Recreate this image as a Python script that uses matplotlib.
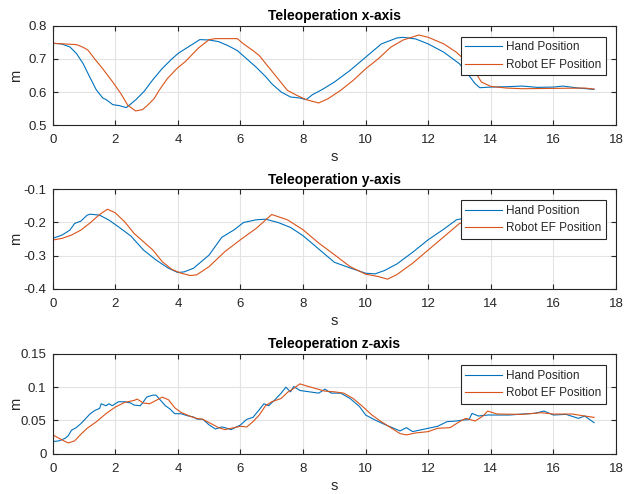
import matplotlib
matplotlib.use("Agg")
import matplotlib.pyplot as plt

plt.rcParams['font.family'] = ['Liberation Sans', 'DejaVu Sans']

# ---------------- data ----------------
x_hand_t = [0, 0.28, 0.55, 0.76, 0.97, 1.18, 1.39, 1.6, 1.71, 1.92, 2.13, 2.35, 2.66, 2.92,
            3.19, 3.5, 3.82, 4.03, 4.35, 4.7, 5.0, 5.3, 5.6, 5.9, 6.2, 6.5, 6.8, 7.0, 7.3,
            7.6, 7.9, 8.1, 8.3, 8.6, 9.0, 9.5, 10.0, 10.5, 11.0, 11.2, 11.6, 12.0, 12.5,
            13.0, 13.3, 13.5, 13.65, 14.0, 14.5, 15.0, 15.5, 16.0, 16.3, 16.8, 17.3]
x_hand_v = [0.747, 0.745, 0.736, 0.716, 0.686, 0.646, 0.607, 0.582, 0.577, 0.562, 0.559, 0.553,
            0.577, 0.602, 0.636, 0.671, 0.701, 0.718, 0.737, 0.758, 0.757, 0.752, 0.740, 0.725,
            0.700, 0.675, 0.647, 0.625, 0.600, 0.585, 0.582, 0.577, 0.592, 0.607, 0.630, 0.665,
            0.705, 0.745, 0.763, 0.765, 0.760, 0.745, 0.720, 0.685, 0.650, 0.625, 0.613, 0.615,
            0.616, 0.618, 0.614, 0.615, 0.618, 0.612, 0.608]
x_robot_t = [0, 0.76, 0.97, 1.13, 1.34, 1.6, 1.92, 2.18, 2.4, 2.65, 2.87, 3.03, 3.24, 3.4,
             3.66, 3.98, 4.24, 4.66, 5.0, 5.2, 5.9, 6.1, 6.4, 6.6, 6.9, 7.2, 7.5, 7.8, 8.1,
             8.5, 8.8, 9.2, 9.6, 10.0, 10.4, 10.8, 11.2, 11.7, 12.0, 12.5, 12.9, 13.3, 13.55,
             13.7, 14.0, 14.5, 15.0, 16.0, 17.0, 17.3]
x_robot_v = [0.747, 0.743, 0.735, 0.726, 0.700, 0.670, 0.630, 0.595, 0.560, 0.543, 0.547,
             0.560, 0.580, 0.605, 0.640, 0.672, 0.692, 0.733, 0.758, 0.761, 0.761, 0.745,
             0.725, 0.710, 0.675, 0.640, 0.605, 0.590, 0.577, 0.567, 0.580, 0.605, 0.635,
             0.670, 0.700, 0.735, 0.757, 0.772, 0.765, 0.745, 0.720, 0.685, 0.653, 0.630,
             0.617, 0.612, 0.610, 0.611, 0.612, 0.609]

y_hand_t = [0, 0.3, 0.55, 0.7, 0.9, 1.1, 1.2, 1.5, 1.8, 2.1, 2.5, 2.9, 3.3, 3.7, 4.0, 4.2,
            4.5, 5.0, 5.4, 5.8, 6.1, 6.5, 6.8, 7.2, 7.6, 8.0, 8.5, 9.0, 9.5, 10.0, 10.3,
            10.6, 11.0, 11.5, 12.0, 12.5, 12.9, 13.0, 13.5, 14.5, 15.5, 16.5, 17.3]
y_hand_v = [-0.248, -0.238, -0.223, -0.203, -0.196, -0.178, -0.175, -0.178, -0.193, -0.213,
            -0.241, -0.283, -0.313, -0.338, -0.351, -0.349, -0.338, -0.298, -0.245, -0.222,
            -0.200, -0.192, -0.190, -0.200, -0.215, -0.240, -0.280, -0.320, -0.337, -0.353,
            -0.355, -0.345, -0.325, -0.290, -0.252, -0.220, -0.192, -0.190, -0.185, -0.182,
            -0.183, -0.182, -0.183]
y_robot_t = [0, 0.3, 0.6, 0.9, 1.2, 1.5, 1.75, 2.0, 2.3, 2.6, 2.9, 3.2, 3.5, 3.8, 4.1, 4.4,
             4.6, 5.0, 5.5, 6.0, 6.5, 7.0, 7.5, 8.0, 8.5, 9.0, 9.5, 10.0, 10.4, 10.7, 11.0,
             11.5, 12.0, 12.5, 13.0, 13.5, 14.5, 15.5, 16.5, 17.3]
y_robot_v = [-0.253, -0.248, -0.238, -0.223, -0.201, -0.176, -0.160, -0.171, -0.198, -0.233,
             -0.258, -0.283, -0.318, -0.341, -0.353, -0.360, -0.358, -0.333, -0.288, -0.252,
             -0.218, -0.176, -0.192, -0.222, -0.262, -0.297, -0.333, -0.356, -0.363, -0.371,
             -0.357, -0.323, -0.283, -0.243, -0.203, -0.190, -0.185, -0.184, -0.185, -0.184]

z_hand_t = [0, 0.2, 0.4, 0.5, 0.6, 0.75, 0.9, 1.0, 1.2, 1.35, 1.5, 1.55, 1.7, 1.8, 1.9, 2.0,
            2.1, 2.3, 2.5, 2.6, 2.8, 2.9, 3.0, 3.2, 3.3, 3.45, 3.6, 3.75, 3.9, 4.1, 4.3, 4.5,
            4.6, 4.8, 5.0, 5.2, 5.4, 5.5, 5.7, 6.0, 6.2, 6.4, 6.6, 6.75, 6.9, 7.1, 7.3, 7.45,
            7.6, 7.7, 7.9, 8.2, 8.5, 8.7, 8.9, 9.2, 9.5, 9.8, 10.0, 10.3, 10.6, 10.9, 11.1,
            11.3, 11.5, 11.8, 12.0, 12.3, 12.6, 12.9, 13.1, 13.3, 13.4, 13.6, 13.9, 14.2,
            14.6, 15.0, 15.4, 15.7, 16.0, 16.4, 16.8, 17.0, 17.3]
z_hand_v = [0.018, 0.019, 0.023, 0.027, 0.035, 0.039, 0.045, 0.050, 0.060, 0.065, 0.068,
            0.075, 0.072, 0.075, 0.072, 0.075, 0.078, 0.078, 0.076, 0.073, 0.072, 0.078,
            0.085, 0.088, 0.088, 0.080, 0.072, 0.067, 0.060, 0.060, 0.057, 0.055, 0.052,
            0.0515, 0.043, 0.037, 0.040, 0.039, 0.036, 0.043, 0.0515, 0.0545, 0.066, 0.075,
            0.072, 0.081, 0.091, 0.100, 0.093, 0.101, 0.095, 0.093, 0.091, 0.097, 0.091,
            0.091, 0.083, 0.071, 0.058, 0.0505, 0.044, 0.038, 0.034, 0.039, 0.033, 0.036,
            0.038, 0.041, 0.048, 0.049, 0.0505, 0.051, 0.0605, 0.0565, 0.058, 0.058, 0.058,
            0.0595, 0.0605, 0.064, 0.058, 0.059, 0.053, 0.0565, 0.0465]
z_robot_t = [0, 0.2, 0.4, 0.5, 0.7, 0.9, 1.1, 1.4, 1.7, 2.0, 2.3, 2.6, 2.7, 2.9, 3.1, 3.3,
             3.5, 3.7, 3.9, 4.1, 4.4, 4.6, 4.8, 5.0, 5.3, 5.5, 5.8, 6.0, 6.2, 6.4, 6.6, 6.8,
             7.0, 7.3, 7.5, 7.7, 7.9, 8.1, 8.4, 8.7, 9.0, 9.3, 9.6, 9.9, 10.2, 10.5, 10.8,
             11.1, 11.3, 11.6, 12.0, 12.3, 12.7, 13.0, 13.2, 13.5, 13.75, 13.9, 14.2, 15.0,
             15.6, 16.0, 16.6, 17.0, 17.3]
z_robot_v = [0.028, 0.023, 0.018, 0.016, 0.019, 0.029, 0.038, 0.048, 0.060, 0.070, 0.077,
             0.080, 0.082, 0.076, 0.075, 0.080, 0.085, 0.081, 0.069, 0.062, 0.056, 0.053,
             0.0515, 0.0465, 0.039, 0.036, 0.039, 0.041, 0.040, 0.048, 0.058, 0.072, 0.078,
             0.083, 0.092, 0.098, 0.105, 0.102, 0.098, 0.094, 0.093, 0.091, 0.083, 0.071,
             0.058, 0.048, 0.039, 0.030, 0.028, 0.031, 0.033, 0.038, 0.039, 0.048, 0.053,
             0.049, 0.0565, 0.064, 0.0595, 0.059, 0.0615, 0.0595, 0.0595, 0.0565, 0.0545]

titles = ["Teleoperation x-axis", "Teleoperation y-axis", "Teleoperation z-axis"]
legend_labels = ["Hand Position", "Robot EF Position"]
ylims = [(0.5, 0.8), (-0.4, -0.1), (0, 0.15)]
yticks = [[0.5, 0.6, 0.7, 0.8], [-0.4, -0.3, -0.2, -0.1], [0, 0.05, 0.1, 0.15]]
ytick_labels = [["0.5", "0.6", "0.7", "0.8"], ["-0.4", "-0.3", "-0.2", "-0.1"],
                ["0", "0.05", "0.1", "0.15"]]
xticks = [0, 2, 4, 6, 8, 10, 12, 14, 16, 18]

series = [(x_hand_t, x_hand_v, x_robot_t, x_robot_v),
          (y_hand_t, y_hand_v, y_robot_t, y_robot_v),
          (z_hand_t, z_hand_v, z_robot_t, z_robot_v)]

BLUE = "#0072BD"
ORANGE = "#D95319"
DARK = "#262626"

W, H = 625, 494
fig = plt.figure(figsize=(W / 100, H / 100), dpi=100)
left_px, right_px = 52.7, 616.0
tops_px = [25.7, 189.3, 354.0]
height_px = 99.5

for i in range(3):
    top = tops_px[i]
    ax = fig.add_axes([left_px / W, 1 - (top + height_px) / H,
                       (right_px - left_px) / W, height_px / H])
    ht, hv, rt, rv = series[i]
    ax.plot(ht, hv, color=BLUE, lw=0.8, label=legend_labels[0])
    ax.plot(rt, rv, color=ORANGE, lw=0.8, label=legend_labels[1])
    ax.set_xlim(0, 18)
    ax.set_ylim(*ylims[i])
    ax.set_xticks(xticks)
    ax.set_xticklabels([str(v) for v in xticks])
    ax.set_yticks(yticks[i])
    ax.set_yticklabels(ytick_labels[i])
    ax.grid(True, color="#e3e3e3", lw=0.8)
    ax.set_axisbelow(True)
    for s in ax.spines.values():
        s.set_color(DARK)
        s.set_linewidth(0.8)
    ax.tick_params(direction="in", top=True, right=True, length=3.5, width=0.8,
                   colors=DARK, labelsize=9.5)
    ax.tick_params(axis="x", pad=6.5)
    ax.tick_params(axis="y", pad=4.5)
    ax.set_title(titles[i], fontsize=10, fontweight="bold", color="black", pad=4)
    ax.set_xlabel("s", fontsize=10.5, color=DARK, labelpad=3)
    ax.set_ylabel("m", fontsize=10.5, color=DARK)
    ax.yaxis.set_label_coords(-0.052, 0.5)
    leg = ax.legend(loc="upper right", bbox_to_anchor=(1 - 10 / 563.3, 1 - 11 / height_px),
                    borderaxespad=0, fontsize=8.5, frameon=True, fancybox=False,
                    handlelength=3.1, handletextpad=0.35, borderpad=0.4, labelspacing=0.45,
                    handleheight=0.7)
    fr = leg.get_frame()
    fr.set_edgecolor(DARK)
    fr.set_linewidth(0.8)
    fr.set_alpha(1)
    for t in leg.get_texts():
        t.set_color(DARK)

fig.savefig("out.png", dpi=100)
